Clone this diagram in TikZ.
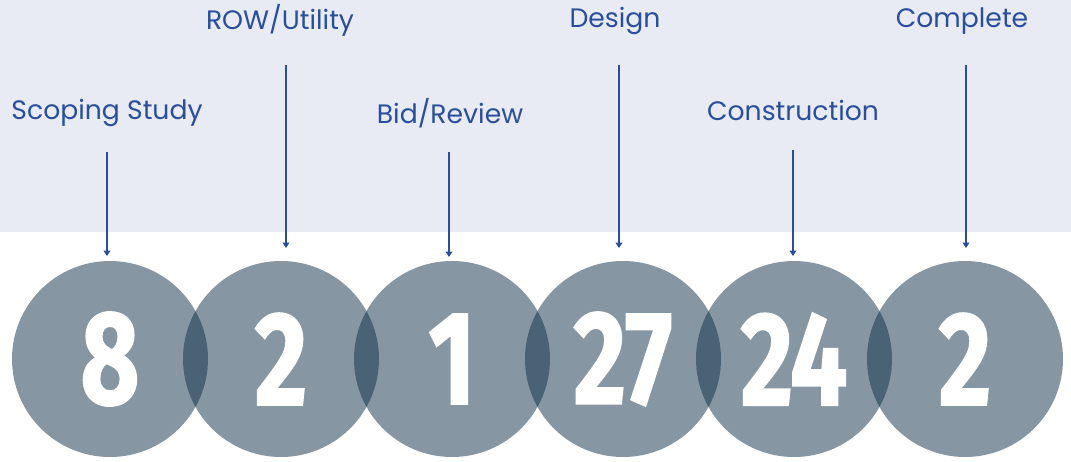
\documentclass[tikz,border=0pt]{standalone}
\usepackage{fontspec}
\setmainfont{Poppins}
\newfontfamily\numfont[FakeStretch=0.76,FakeBold=1.2]{Fira Sans}
\usetikzlibrary{arrows.meta}
\definecolor{bandgray}{HTML}{E8EBF3}
\definecolor{labelblue}{HTML}{2A4E9B}
\definecolor{discblue}{HTML}{0D2F47}
\tikzset{
  disc/.style={circle,minimum size=147pt,inner sep=0pt,fill=discblue,
    fill opacity=0.5,text opacity=1,text=white,
    font=\numfont\bfseries\fontsize{100}{100}\selectfont},
  phase/.style={text=labelblue,inner sep=0pt,font=\fontsize{20}{24}\selectfont},
  pointer/.style={draw=labelblue,line width=1.1pt,-{Triangle[width=5pt,length=4pt]}}
}
\begin{document}
\begin{tikzpicture}[x=0.75pt,y=-0.75pt]
            \useasboundingbox (0,0) rectangle (1071,461);
            \fill[bandgray] (0,0) rectangle (1071,232);
            % phases
            \node[phase] (scoping) at (107,113) {Scoping Study};
            \node[phase] (row) at (280,20) {ROW/Utility};
            \node[phase] (bid) at (450,113) {Bid/Review};
            \node[phase] (design) at (615,21) {Design};
            \node[phase] (constr) at (793,110) {Construction};
            \node[phase] (complete) at (962,21) {Complete};
            % counts
            \foreach \i/\n in {0/8,1/2,2/1,3/27,4/24,5/2}
               \node[disc] (c\i) at ({110+171*\i},359) {\n};
            % arrows
            \coordinate (p0) at (107,152); \coordinate (q0) at (107,256);
            \coordinate (p1) at (286,65);  \coordinate (q1) at (286,248);
            \coordinate (p2) at (449,152); \coordinate (q2) at (449,257);
            \coordinate (p3) at (619,65);  \coordinate (q3) at (619,248);
            \coordinate (p4) at (793,150); \coordinate (q4) at (793,256);
            \coordinate (p5) at (966,65);  \coordinate (q5) at (966,248);
            \foreach \i in {0,...,5}
               \draw[pointer] (p\i) -- (q\i);
         \end{tikzpicture}
\end{document}
